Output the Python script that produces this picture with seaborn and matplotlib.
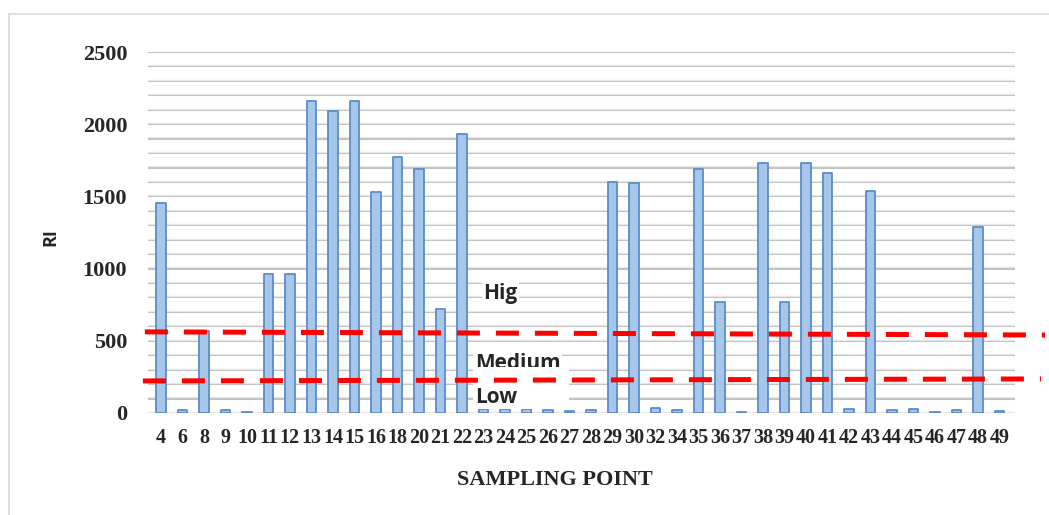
import matplotlib
matplotlib.use("Agg")
import matplotlib.pyplot as plt
import seaborn as sns
import pandas as pd
from matplotlib.lines import Line2D
from matplotlib.patches import Rectangle

# ---- data ----
sampling_points = ["4", "6", "8", "9", "10", "11", "12", "13", "14", "15", "16", "18", "20",
                   "21", "22", "23", "24", "25", "26", "27", "28", "29", "30", "32", "34",
                   "35", "36", "37", "38", "39", "40", "41", "42", "43", "44", "45", "46",
                   "47", "48", "49"]
ri_values = [1455, 20, 565, 20, 10, 965, 965, 2160, 2090, 2160, 1530, 1770, 1690,
             720, 1930, 30, 30, 25, 20, 15, 20, 1600, 1590, 35, 20,
             1690, 770, 5, 1730, 770, 1730, 1665, 25, 1540, 20, 25, 10,
             20, 1285, 15]
y_ticks = [0, 500, 1000, 1500, 2000, 2500]
# threshold lines (start value, end value)
high_threshold = [562, 540]
low_threshold = [222, 236]
zone_labels = ["Hig", "Medium", "Low"]

df = pd.DataFrame({"point": sampling_points, "RI": ri_values})

sns.set_theme(style="white")
plt.rcParams["font.family"] = ["DejaVu Sans"]

fig = plt.figure(figsize=(10.49, 5.15), dpi=100)
ax = fig.add_axes([148 / 1049, 1 - 413 / 515, (1015 - 148) / 1049, (413 - 52) / 515])

# gridlines every 100
for v in range(0, 2501, 100):
    ax.axhline(v, color="#c2c2c2", lw=1.5, zorder=0)
    ax.axhline(v + 8, color="#e8e8e8", lw=0.8, zorder=0)

sns.barplot(data=df, x="point", y="RI", order=sampling_points, width=0.45,
            color="#a7c7ea", edgecolor="#5b8cc8", linewidth=1.3, saturation=1,
            ax=ax, zorder=2)
for p in ax.patches:
    p.set_joinstyle("round")

n = len(sampling_points)
ax.set_xlim(-0.6, n - 1 + 0.72)
ax.set_ylim(0, 2500)
ax.set_yticks(y_ticks)
ax.set_yticklabels([str(t) for t in y_ticks], fontfamily="Liberation Serif",
                   fontweight="bold", fontsize=16)
ax.set_xticks(range(n))
ax.set_xticklabels(sampling_points, fontfamily="Liberation Serif",
                   fontweight="bold", fontsize=14.5)
ax.tick_params(axis="y", length=0, pad=15)
ax.tick_params(axis="x", length=0, pad=11)
for s in ax.spines.values():
    s.set_visible(False)

ax.set_xlabel("SAMPLING POINT", fontfamily="Liberation Serif", fontweight="bold",
              fontsize=16)
ax.xaxis.set_label_coords((555 - 148) / 867, -(480 - 413) / 361)
ax.xaxis.label.set_va("center")
ax.set_ylabel("RI", fontfamily="Open Sans", fontweight="bold", fontsize=13)
ax.yaxis.set_label_coords((50 - 148) / 867, (413 - 237) / 361)
ax.yaxis.label.set_va("center")

# zone labels
ax.text(14.98, 831, zone_labels[0], fontfamily="Open Sans", fontweight="bold",
        fontsize=15, ha="left", va="center", zorder=5,
        bbox=dict(facecolor="white", edgecolor="none", pad=1))
ax.text(14.6, 305, zone_labels[1], fontfamily="Open Sans", fontweight="bold",
        fontsize=15, ha="left", va="baseline", zorder=5,
        bbox=dict(facecolor="white", edgecolor="none", pad=1))
ax.add_patch(Rectangle((14.5, 30), 4.5, 288, facecolor="white", edgecolor="none", zorder=6))
ax.text(14.6, 110, zone_labels[2], fontfamily="Open Sans", fontweight="bold",
        fontsize=15, ha="left", va="center", zorder=7)

# threshold dashed lines (extend beyond plot area)
x0 = (145 - 161) / 21.5
x1 = (1045 - 161) / 21.5
ax.plot([x0, x1], high_threshold, color="#ff0000", lw=3.6, dashes=(4.6, 3.2),
        clip_on=False, zorder=8, dash_capstyle="butt")
ax.plot([(143 - 161) / 21.5, (1041 - 161) / 21.5], low_threshold, color="#ff0000",
        lw=3.6, dashes=(4.6, 3.2), clip_on=False, zorder=8, dash_capstyle="butt")

# outer frame (top and left visible)
fig.add_artist(Line2D([9 / 1049, 1], [1 - 14 / 515, 1 - 14 / 515], color="#d9d9d9", lw=1.2))
fig.add_artist(Line2D([9 / 1049, 9 / 1049], [0, 1 - 14 / 515], color="#d9d9d9", lw=1.2))

fig.savefig("out.png", dpi=100, facecolor="white")
